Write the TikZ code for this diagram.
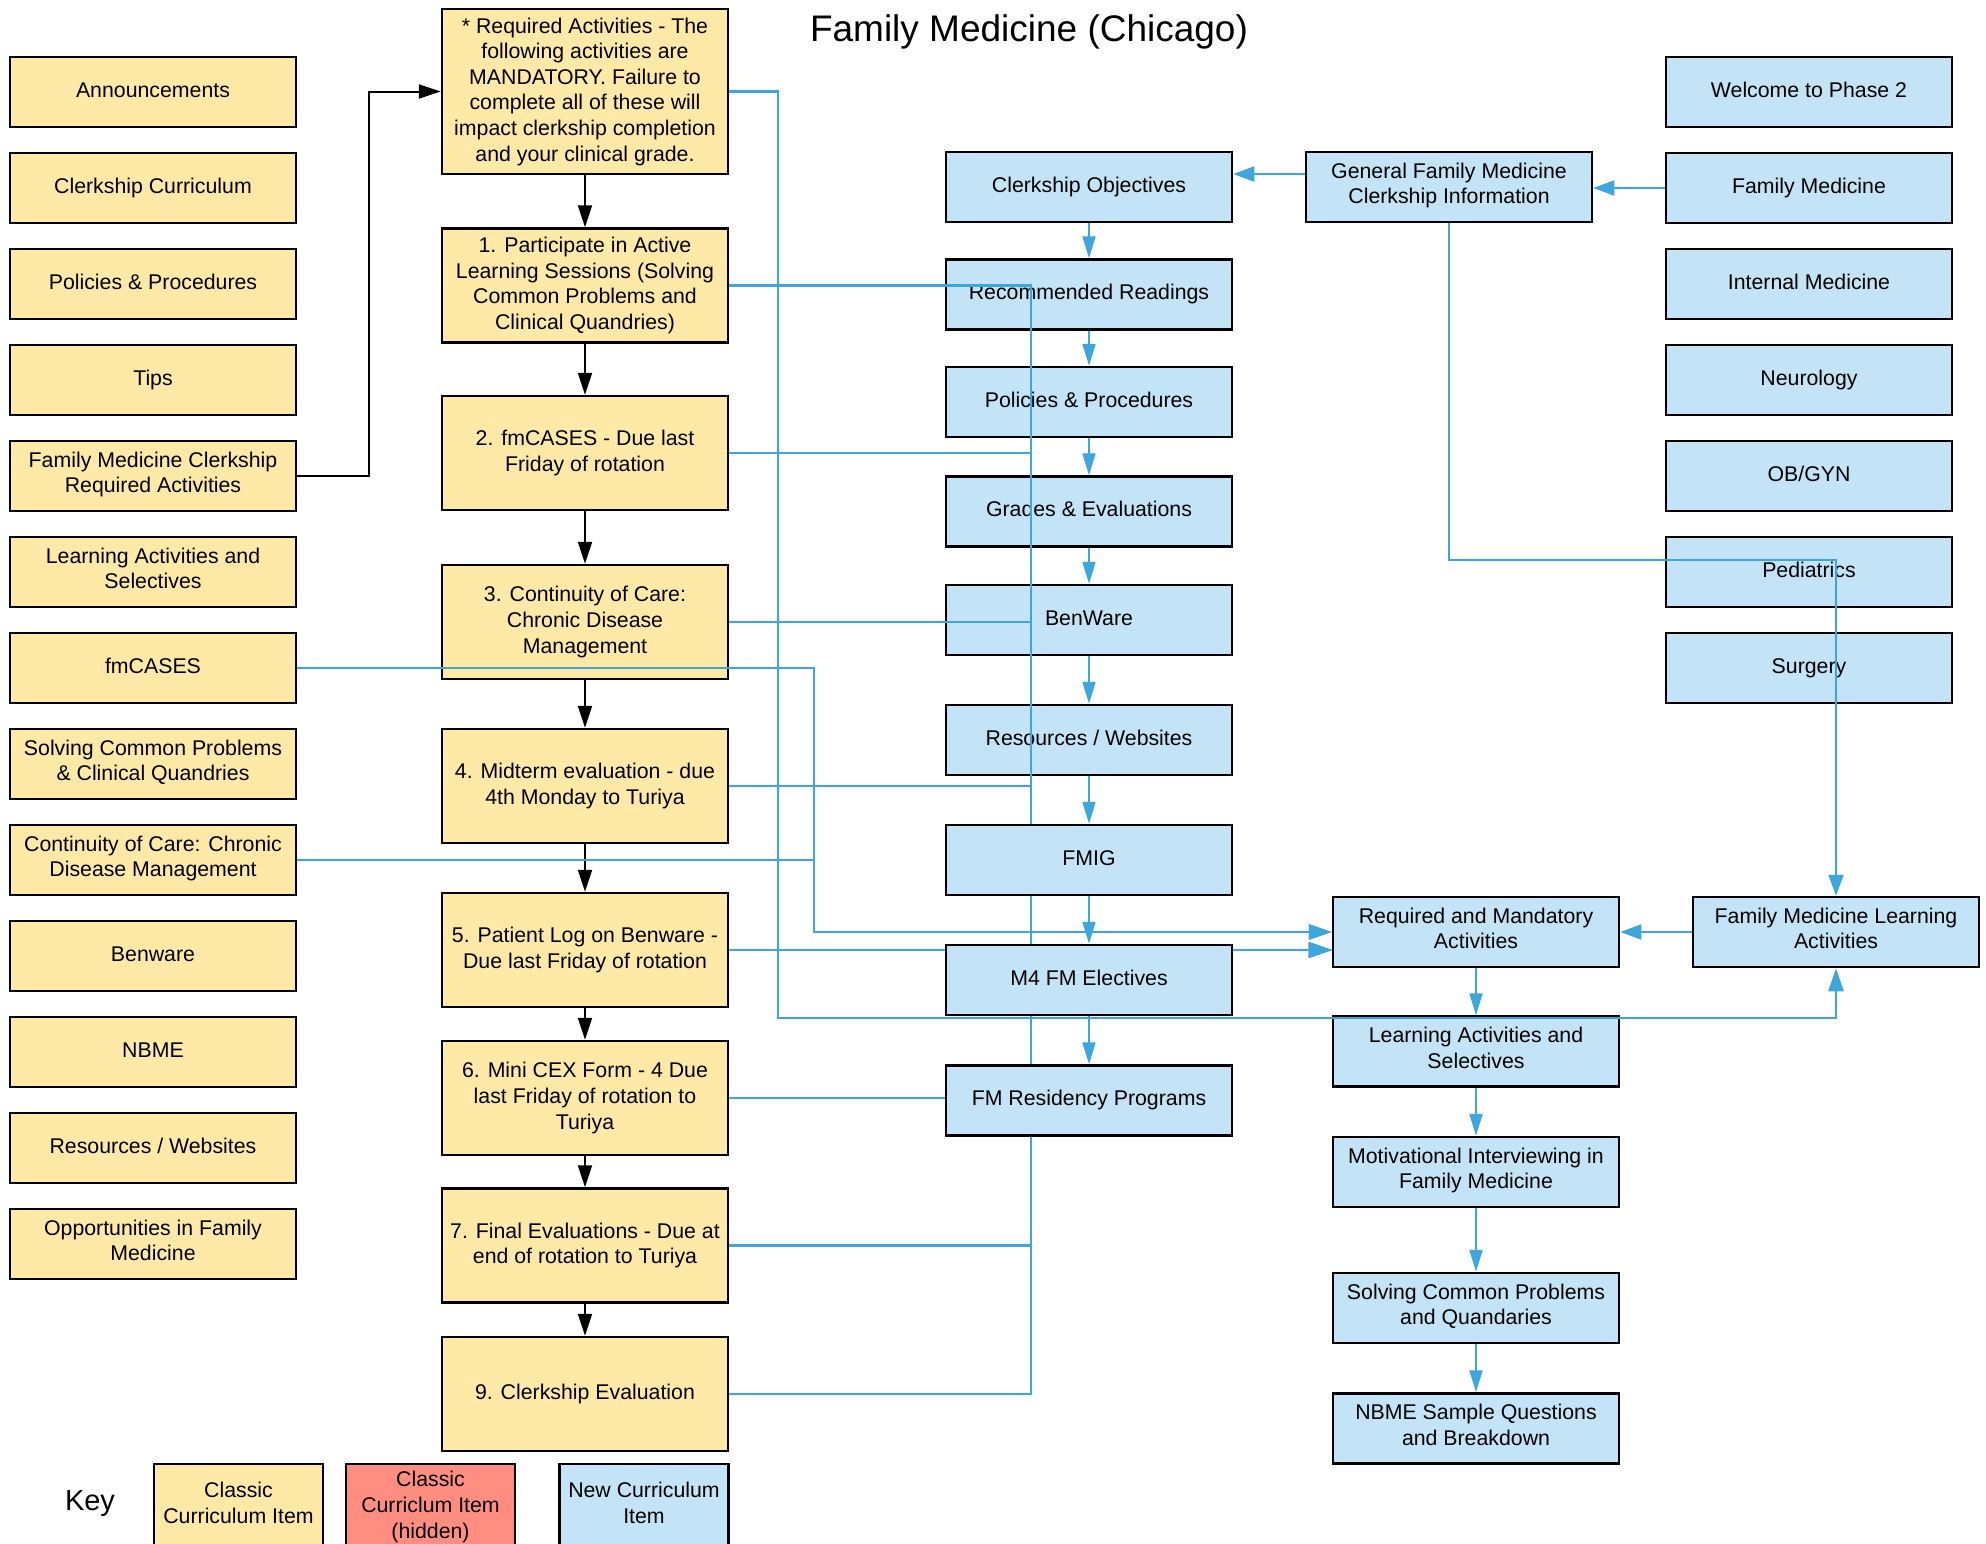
\documentclass[tikz,border=0pt]{standalone}
\usepackage{fontspec}
\setmainfont{Liberation Sans}
\usetikzlibrary{arrows.meta}
\definecolor{yfill}{HTML}{FFE9A6}
\definecolor{bfill}{HTML}{C3E4F6}
\definecolor{rfill}{HTML}{FF8E80}
\definecolor{bline}{HTML}{3DA6DD}
\pgfdeclarelayer{back}
\pgfdeclarelayer{front}
\pgfsetlayers{back,main,front}
\begin{document}
\begin{tikzpicture}[x=1pt,y=-1pt,
  box/.style={draw=black, line width=2.5pt, align=center, inner sep=0pt,
    font=\fontsize{21.3}{25.6}\selectfont},
  withstrut/.style={execute at end node={\strut}},
  yb/.style={box, fill=yfill},
  bb/.style={box, fill=bfill},
  rb/.style={box, fill=rfill},
  lbox/.style={yb, withstrut, minimum width=286pt, minimum height=70pt},
  mbox/.style={yb, minimum width=286pt, minimum height=114pt},
  cbox/.style={bb, withstrut, minimum width=286pt, minimum height=70pt},
  kbox/.style={minimum width=169pt, minimum height=86pt},
  bk/.style={draw=black, line width=2pt, -{Triangle[length=22pt,width=14pt]}},
  bl/.style={draw=bline, line width=2.5pt, -{Triangle[length=23pt,width=15pt]}},
  blt/.style={draw=bline, line width=2pt, -{Triangle[length=21pt,width=15pt]}},
  bln/.style={draw=bline, line width=2pt, -{Triangle[length=22pt,width=13pt]}}
]
\useasboundingbox (0,0) rectangle (1986,1543);
\clip (0,0) rectangle (1986,1543);

\node[font=\fontsize{37}{44}\selectfont] (title) at (1029,32) {Family Medicine (Chicago)};

\begin{pgfonlayer}{back}
% left column
\node[lbox] (lann)  at (153,92)   {Announcements};
\node[lbox] (lcur)  at (153,188)  {Clerkship Curriculum};
\node[lbox] (lpol)  at (153,284)  {Policies \& Procedures};
\node[lbox] (ltip)  at (153,380)  {Tips};
\node[lbox] (lfrq)  at (153,476)  {Family Medicine Clerkship\\Required Activities};
\node[lbox] (llas)  at (153,572)  {Learning Activities and\\Selectives};
\node[lbox] (lfmc)  at (153,668)  {fmCASES};
\node[lbox] (lscp)  at (153,764)  {Solving Common Problems\\\& Clinical Quandries};
\node[lbox] (lcont) at (153,860)  {Continuity of Care: Chronic\\Disease Management};
\node[lbox] (lben)  at (153,956)  {Benware};
\node[lbox] (lnbme) at (153,1052) {NBME};
\node[lbox] (lres)  at (153,1148) {Resources / Websites};
\node[lbox] (lopp)  at (153,1244) {Opportunities in Family\\Medicine};

% middle yellow column
\node[mbox, minimum height=165pt] (req) at (585,91.5) {* Required Activities - The\\following activities are\\MANDATORY. Failure to\\complete all of these will\\impact clerkship completion\\and your clinical grade.};
\node[mbox] (a1) at (585,285.5) {1. Participate in Active\\Learning Sessions (Solving\\Common Problems and\\Clinical Quandries)};
\node[mbox] (a2) at (585,453)   {2. fmCASES - Due last\\Friday of rotation};
\node[mbox] (a3) at (585,622)   {3. Continuity of Care:\\Chronic Disease\\Management};
\node[mbox] (a4) at (585,786)   {4. Midterm evaluation - due\\4th Monday to Turiya};
\node[mbox] (a5) at (585,950)   {5. Patient Log on Benware -\\Due last Friday of rotation};
\node[mbox] (a6) at (585,1098)  {6. Mini CEX Form - 4 Due\\last Friday of rotation to\\Turiya};
\node[mbox] (a7) at (585,1245.5){7. Final Evaluations - Due at\\end of rotation to Turiya};
\node[mbox] (a9) at (585,1394)  {9. Clerkship Evaluation};

% blue chain column
\node[cbox] (co) at (1089,187)   {Clerkship Objectives};
\node[cbox] (rr) at (1089,294.5) {Recommended Readings};
\node[cbox] (pp) at (1089,402)   {Policies \& Procedures};
\node[cbox] (ge) at (1089,511.5) {Grades \& Evaluations};
\node[cbox] (bw) at (1089,620)   {BenWare};
\node[cbox] (rw) at (1089,740)   {Resources / Websites};

\node[cbox] (gen) at (1449,187) {General Family Medicine\\Clerkship Information};

% right column
\node[cbox] (rwel) at (1809,92)  {Welcome to Phase 2};
\node[cbox] (rfam) at (1809,188) {Family Medicine};
\node[cbox] (rint) at (1809,284) {Internal Medicine};
\node[cbox] (rneu) at (1809,380) {Neurology};
\node[cbox] (rob)  at (1809,476) {OB/GYN};
\node[cbox] (rped) at (1809,572) {Pediatrics};
\node[cbox] (rsur) at (1809,668) {Surgery};

\node[cbox] (rm)   at (1476,932)    {Required and Mandatory\\Activities};
\node[cbox] (fmla) at (1836,932)    {Family Medicine Learning\\Activities};
\node[cbox] (las)  at (1476,1051.5) {Learning Activities and\\Selectives};
\node[cbox] (mi)   at (1476,1172)   {Motivational Interviewing in\\Family Medicine};
\node[cbox] (scp)  at (1476,1308)   {Solving Common Problems\\and Quandaries};
\node[cbox] (nbs)  at (1476,1428.5) {NBME Sample Questions\\and Breakdown};

% key
\node[font=\fontsize{29}{34}\selectfont] (keylbl) at (90,1504) {Key};
\node[yb, kbox, text depth=9pt] (k1) at (238.5,1507) {Classic\\Curriculum Item};
\node[rb, kbox] (k2) at (430.5,1507) {Classic\\Curriclum Item\\(hidden)};
\node[bb, kbox, text depth=9pt] (k3) at (644,1507)   {New Curriculum\\Item};
\end{pgfonlayer}

\begin{pgfonlayer}{front}
\node[cbox] (fmig) at (1089,860)    {FMIG};
\node[cbox] (m4)   at (1089,980)    {M4 FM Electives};
\node[cbox] (fmr)  at (1089,1100.5) {FM Residency Programs};
\end{pgfonlayer}

% black connectors
\draw[bk] (lfrq.east) -- ++(72,0) |- (req.west);
\draw[bk] (req.south) -- (a1.north);
\draw[bk] (a1.south) -- (a2.north);
\draw[bk] (a2.south) -- (a3.north);
\draw[bk] (a3.south) -- (a4.north);
\draw[bk] (a4.south) -- (a5.north);
\draw[bk] (a5.south) -- (a6.north);
\draw[bk] (a6.south) -- (a7.north);
\draw[bk] (a7.south) -- (a9.north);

% blue connectors from yellow items
\coordinate (bus) at (1031,950);
\coordinate (fmbus) at (814,932);
\coordinate (reqbus) at (778,1018);
\draw[bl] (req.east) -| (reqbus) -| (fmla.south);
\draw[bl] (lfmc.east) -| (fmbus) -- (rm.west);
\draw[bl] (lcont.east) -| (fmbus) -- (rm.west);
\draw[bl] (a5.east) -- (a5.east -| rm.west);
\foreach \n in {a1,a2,a3,a4,a6,a7,a9}
  \draw[bl] (\n.east) -| (bus) -- (a5.east -| rm.west);

% blue connectors among new items
\coordinate (gbend) at (1449,560);
\draw[blt] (rfam.west) -- (rfam.west -| gen.east);
\draw[blt] ([yshift=13pt]gen.west) -- ([yshift=13pt]co.east);
\draw[blt] (gen.south) -- (gbend) -| (fmla.north);
\draw[blt] (fmla.west) -- (rm.east);

\draw[bln] (co.south) -- (rr.north);
\draw[bln] (rr.south) -- (pp.north);
\draw[bln] (pp.south) -- (ge.north);
\draw[bln] (ge.south) -- (bw.north);
\draw[bln] (bw.south) -- (rw.north);
\draw[bln] (rw.south) -- (fmig.north);
\draw[bln] (fmig.south) -- (m4.north);
\draw[bln] (m4.south) -- (fmr.north);
\draw[bln] (rm.south) -- (las.north);
\draw[bln] (las.south) -- (mi.north);
\draw[bln] (mi.south) -- (scp.north);
\draw[bln] (scp.south) -- (nbs.north);
\end{tikzpicture}
\end{document}
